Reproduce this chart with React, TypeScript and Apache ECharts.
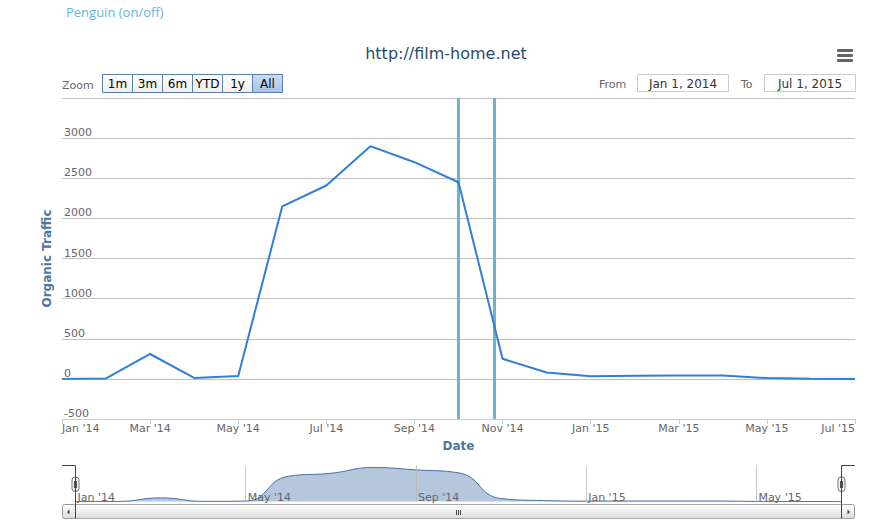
import React, { useEffect, useRef } from "react";
import * as echarts from "echarts";

// ---------- data ----------
const monthLabels = [
  "Jan '14", "Feb '14", "Mar '14", "Apr '14", "May '14", "Jun '14", "Jul '14", "Aug '14", "Sep '14",
  "Oct '14", "Nov '14", "Dec '14", "Jan '15", "Feb '15", "Mar '15", "Apr '15", "May '15", "Jun '15", "Jul '15",
];
const monthDates = [
  "2014-01-01", "2014-02-01", "2014-03-01", "2014-04-01", "2014-05-01", "2014-06-01", "2014-07-01",
  "2014-08-01", "2014-09-01", "2014-10-01", "2014-11-01", "2014-12-01", "2015-01-01", "2015-02-01",
  "2015-03-01", "2015-04-01", "2015-05-01", "2015-06-01", "2015-07-01",
];
const organicTraffic = [0, 5, 310, 12, 37, 2150, 2410, 2900, 2700, 2450, 250, 80, 33, 38, 41, 41, 10, 3, 0];
const penguinUpdates = ["2014-10-01", "2014-10-26"];
const yMin = -500;
const yMax = 3500;
const yStep = 500;
const xLabelStep = 2;
const navigatorLabelStep = 4;
const rangeButtons = ["1m", "3m", "6m", "YTD", "1y", "All"];
const selectedButton = "All";
const fromDate = "Jan 1, 2014";
const toDate = "Jul 1, 2015";
const chartTitle = "http://film-home.net";
const linkText = "Penguin (on/off)";

const FONT = '"DejaVu Sans", Verdana, sans-serif';

function dateToIndex(d: string): number {
  const t = Date.parse(d);
  const s = monthDates.map((m) => Date.parse(m));
  for (let i = 0; i < s.length - 1; i++) {
    if (t >= s[i] && t < s[i + 1]) return i + (t - s[i]) / (s[i + 1] - s[i]);
  }
  return s.length - 1;
}

function buildOption() {
  const seriesData = organicTraffic.map((v, i) => [i, v]);
  const lastIdx = monthLabels.length - 1;
  const labelFmt = (v: number) => monthLabels[Math.round(v)] ?? "";

  const btnGrad = (sel: boolean) =>
    new echarts.graphic.LinearGradient(0, 0, 0, 1, sel
      ? [{ offset: 0, color: "#cadcf6" }, { offset: 1, color: "#a9c3ea" }]
      : [{ offset: 0, color: "#ffffff" }, { offset: 1, color: "#eeeeee" }]);
  const barGrad = () =>
    new echarts.graphic.LinearGradient(0, 0, 0, 1, [
      { offset: 0, color: "#ffffff" },
      { offset: 1, color: "#dcdcdc" },
    ]);

  const buttons: any[] = [];
  rangeButtons.forEach((b, i) => {
    const sel = b === selectedButton;
    buttons.push({
      type: "rect",
      shape: { x: 102.5 + 30 * i, y: 74.5, width: 30, height: 18 },
      style: { fill: btnGrad(sel), stroke: "#5a7fae", lineWidth: 1 },
    });
    buttons.push({
      type: "text",
      x: 117.5 + 30 * i,
      y: 84,
      style: { text: b, fill: "#000", font: `12px ${FONT}`, align: "center", verticalAlign: "middle" },
    });
  });

  const handle = (cx: number) => ({
    type: "group",
    children: [
      { type: "rect", shape: { x: cx - 3.5, y: 477, width: 7, height: 14.5, r: 3 }, style: { fill: "#f4f4f4", stroke: "#777", lineWidth: 1 } },
      { type: "line", shape: { x1: cx - 1, y1: 481, x2: cx - 1, y2: 488 }, style: { stroke: "#555", lineWidth: 1 } },
      { type: "line", shape: { x1: cx + 1, y1: 481, x2: cx + 1, y2: 488 }, style: { stroke: "#555", lineWidth: 1 } },
    ],
  });

  const graphic: any[] = [
    { type: "text", x: 66, y: 12, style: { text: linkText, fill: "#64b5dc", font: '13px "Open Sans", sans-serif', verticalAlign: "middle" } },
    { type: "text", x: 446, y: 53, style: { text: chartTitle, fill: "#274b6d", font: `16px ${FONT}`, align: "center", verticalAlign: "middle" } },
    { type: "rect", shape: { x: 837, y: 49, width: 16, height: 3, r: 1 }, style: { fill: "#666" } },
    { type: "rect", shape: { x: 837, y: 54, width: 16, height: 3, r: 1 }, style: { fill: "#666" } },
    { type: "rect", shape: { x: 837, y: 59, width: 16, height: 3, r: 1 }, style: { fill: "#666" } },
    { type: "text", x: 62, y: 85, style: { text: "Zoom", fill: "#666", font: `11px ${FONT}`, verticalAlign: "middle" } },
    ...buttons,
    { type: "text", x: 599, y: 84, style: { text: "From", fill: "#666", font: `11px ${FONT}`, verticalAlign: "middle" } },
    { type: "rect", shape: { x: 637.5, y: 74.5, width: 91, height: 17 }, style: { fill: "#fff", stroke: "#cccccc", lineWidth: 1 } },
    { type: "text", x: 683, y: 83.5, style: { text: fromDate, fill: "#333", font: `12px ${FONT}`, align: "center", verticalAlign: "middle" } },
    { type: "text", x: 741, y: 84, style: { text: "To", fill: "#666", font: `11px ${FONT}`, verticalAlign: "middle" } },
    { type: "rect", shape: { x: 764.5, y: 74.5, width: 91, height: 17 }, style: { fill: "#fff", stroke: "#cccccc", lineWidth: 1 } },
    { type: "text", x: 810, y: 83.5, style: { text: toDate, fill: "#333", font: `12px ${FONT}`, align: "center", verticalAlign: "middle" } },

    // scrollbar
    { type: "rect", z: 50, shape: { x: 75.5, y: 504.5, width: 766, height: 14 }, style: { fill: barGrad(), stroke: "#a8a8a8", lineWidth: 1 } },
    { type: "rect", z: 51, shape: { x: 62.5, y: 504.5, width: 13, height: 14, r: 2 }, style: { fill: barGrad(), stroke: "#999", lineWidth: 1 } },
    { type: "rect", z: 51, shape: { x: 841.5, y: 504.5, width: 13, height: 14, r: 2 }, style: { fill: barGrad(), stroke: "#999", lineWidth: 1 } },
    { type: "polygon", z: 52, shape: { points: [[69.5, 509.5], [69.5, 514.5], [67, 512]] }, style: { fill: "#444" } },
    { type: "polygon", z: 52, shape: { points: [[847.5, 509.5], [847.5, 514.5], [850, 512]] }, style: { fill: "#444" } },
    { type: "line", z: 52, shape: { x1: 456.5, y1: 510, x2: 456.5, y2: 515 }, style: { stroke: "#444", lineWidth: 1 } },
    { type: "line", z: 52, shape: { x1: 458.5, y1: 510, x2: 458.5, y2: 515 }, style: { stroke: "#444", lineWidth: 1 } },
    { type: "line", z: 52, shape: { x1: 460.5, y1: 510, x2: 460.5, y2: 515 }, style: { stroke: "#444", lineWidth: 1 } },

    // navigator outline + handles
    { type: "polyline", z: 60, shape: { points: [[62, 465.5], [75.5, 465.5], [75.5, 518.5]] }, style: { stroke: "#444", lineWidth: 1, fill: null } },
    { type: "polyline", z: 60, shape: { points: [[841.5, 518.5], [841.5, 465.5], [855, 465.5]] }, style: { stroke: "#444", lineWidth: 1, fill: null } },
    { ...handle(75.5), z: 61 },
    { ...handle(841.5), z: 61 },
  ];

  return {
    animation: false,
    textStyle: { fontFamily: FONT },
    graphic,
    grid: [
      { left: 62, top: 98, width: 793, height: 321, containLabel: false, outerBoundsMode: "none" },
      { left: 75.5, top: 465.5, width: 766, height: 36, containLabel: false, outerBoundsMode: "none" },
    ],
    xAxis: [
      {
        type: "value",
        gridIndex: 0,
        min: 0,
        max: lastIdx,
        interval: xLabelStep,
        axisLine: { show: true, onZero: false, lineStyle: { color: "#C0D0E0", width: 1 } },
        axisTick: { show: true, length: 5, lineStyle: { color: "#C0D0E0" } },
        axisLabel: {
          formatter: labelFmt,
          color: "#666",
          fontSize: 11,
          fontFamily: FONT,
          margin: 4,
          alignMinLabel: "left",
          alignMaxLabel: "right",
        },
        splitLine: { show: false },
        name: "Date",
        nameLocation: "middle",
        nameGap: 21,
        nameTextStyle: { color: "#4d759e", fontWeight: "bold", fontSize: 12, fontFamily: FONT },
      },
      {
        type: "value",
        gridIndex: 1,
        z: 10,
        min: 0,
        max: lastIdx,
        interval: navigatorLabelStep,
        axisLine: { show: false, onZero: false },
        axisTick: { show: false },
        axisLabel: {
          inside: true,
          formatter: labelFmt,
          color: "#666",
          fontSize: 11,
          fontFamily: FONT,
          align: "left",
          verticalAlign: "middle",
          margin: 4,
          padding: [0, 0, 0, 2],
          showMaxLabel: false,
        },
        splitLine: { show: true, lineStyle: { color: "#b8b8b8", width: 1, opacity: 0.8 } },
      },
    ],
    yAxis: [
      {
        type: "value",
        gridIndex: 0,
        min: yMin,
        max: yMax,
        interval: yStep,
        axisLine: { show: false, onZero: false },
        axisTick: { show: false },
        axisLabel: {
          inside: true,
          margin: 2,
          color: "#666",
          fontSize: 11,
          fontFamily: FONT,
          verticalAlign: "bottom",
          showMaxLabel: false,
          formatter: (v: number) => String(v),
        },
        splitLine: { show: true, lineStyle: { color: "#C0C0C0", width: 1 } },
        name: "Organic Traffic",
        nameLocation: "middle",
        nameGap: 8,
        nameRotate: 90,
        nameTextStyle: { color: "#4d759e", fontWeight: "bold", fontSize: 12, fontFamily: FONT },
      },
      {
        type: "value",
        gridIndex: 1,
        min: 0,
        max: (v: any) => v.max * 1.06,
        show: false,
        axisLine: { onZero: false },
        splitLine: { show: false },
      },
    ],
    series: [
      {
        type: "line",
        name: "Organic Traffic",
        xAxisIndex: 0,
        yAxisIndex: 0,
        data: seriesData,
        symbol: "none",
        showSymbol: false,
        lineStyle: { color: "#2f7ed8", width: 2 },
        itemStyle: { color: "#2f7ed8" },
        z: 3,
        markLine: {
          silent: true,
          z: 1,
          symbol: ["none", "none"],
          label: { show: false },
          emphasis: { disabled: true },
          lineStyle: { color: "#6cb2d0", width: 3, type: "solid" },
          data: penguinUpdates.map((d) => ({ xAxis: dateToIndex(d) })),
        },
      },
      {
        type: "line",
        name: "Navigator",
        xAxisIndex: 1,
        yAxisIndex: 1,
        data: seriesData,
        smooth: true,
        symbol: "none",
        showSymbol: false,
        lineStyle: { color: "#4572A7", width: 1 },
        itemStyle: { color: "#4572A7" },
        areaStyle: { color: "rgba(69,114,167,0.4)", opacity: 1 },
        silent: true,
      },
    ],
  };
}

export default function App() {
  const ref = useRef<HTMLDivElement>(null);
  useEffect(() => {
    if (!ref.current) return;
    const chart = echarts.init(ref.current, null, { renderer: "svg" });
    chart.setOption(buildOption() as any);
    return () => chart.dispose();
  }, []);
  return (
    <div
      ref={ref}
      style={{ position: "absolute", left: 0, top: 0, width: 879, height: 529, background: "#fff" }}
    />
  );
}
